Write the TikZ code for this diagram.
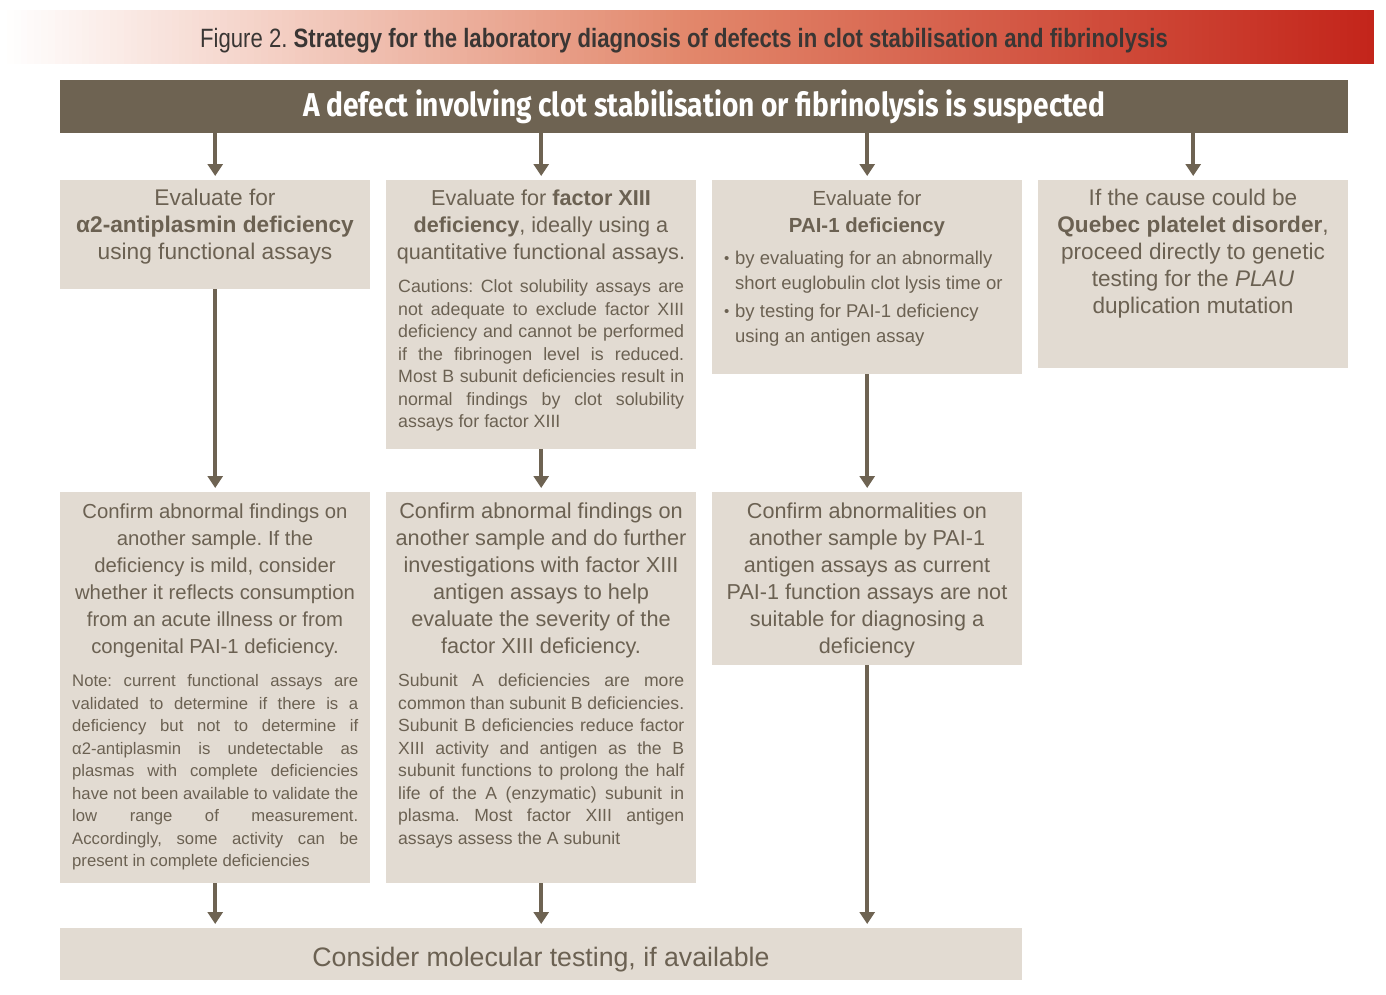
\documentclass[tikz,border=0pt]{standalone}
\usepackage{fontspec}
\setmainfont{Liberation Sans}
\newfontfamily\narrowfont[FakeStretch=0.835]{Liberation Sans}
\newfontfamily\headfont[FakeStretch=0.852]{Fira Sans}
\usetikzlibrary{arrows.meta}
\definecolor{barbrown}{HTML}{6E6352}
\definecolor{boxfill}{HTML}{E2DBD2}
\definecolor{txt}{HTML}{6B6152}
\definecolor{titlered}{HTML}{C3241A}
\definecolor{titlemid}{HTML}{E2876B}
\definecolor{titletxt}{HTML}{3A3634}
\setlength\parindent{0pt}
\frenchspacing
\newcommand\ns{\frenchspacing\spaceskip=0pt\xspaceskip=0pt\relax}
\newcommand\jl[1]{\makebox[286pt][s]{#1}\\}
\newcommand\bul{\makebox[11pt][l]{\raisebox{1pt}{\fontsize{15}{15}\selectfont •}}}
\begin{document}
\begin{tikzpicture}[x=1pt,y=-1pt,
  box/.style={fill=boxfill, draw=none, inner sep=0pt, anchor=north west},
  arr/.style={draw=barbrown, line width=4pt, -{Triangle[width=15pt,length=12pt]}, shorten >=4pt},
  maintxt/.style={text=txt, align=center, inner sep=0pt, font=\fontsize{#1}{27}\selectfont, anchor=north},
  maintxt/.default=21,
  notetxt/.style={text=txt, align=left, text width=286pt, inner sep=0pt, font=\fontsize{#1}{22.5}\selectfont, anchor=north west},
  notetxt/.default=18,
  bultxt/.style={text=txt, align=left, text width=295pt, inner sep=0pt, font=\fontsize{18.5}{25}\selectfont, anchor=north west}]
\useasboundingbox (0,0) rectangle (1386,994);
\fill[white] (0,0) rectangle (1386,994);
% title band (gradient drawn as strips)
\foreach \i in {0,...,99} {
  \fill[titlemid!\i!white] (\i*6.87,10) rectangle (\i*6.87+7.3,64);
  \fill[titlered!\i!titlemid] (687+\i*6.87,10) rectangle ({min(687+\i*6.87+7.3,1374)},64);
}
\node[anchor=base, inner sep=0pt, text=titletxt, font=\narrowfont\fontsize{26.5}{30}\selectfont] (title) at (684,47)
  {Figure 2. \textbf{Strategy for the laboratory diagnosis of defects in clot stabilisation and fibrinolysis}};
% header bar
\node[fill=barbrown, inner sep=0pt, minimum width=1288pt, minimum height=53pt, anchor=north west,
  text=white, font=\headfont\bfseries\fontsize{33}{36}\selectfont] (bar) at (60,80)
  {\raisebox{2pt}{A defect involving clot stabilisation or fibrinolysis is suspected}};
% boxes row 1
\node[box, minimum width=310pt, minimum height=109pt] (a1) at (60,180) {};
\node[box, minimum width=310pt, minimum height=269pt] (b1) at (386,180) {};
\node[box, minimum width=310pt, minimum height=194pt] (c1) at (712,180) {};
\node[box, minimum width=310pt, minimum height=188pt] (d1) at (1038,180) {};
% boxes row 2
\node[box, minimum width=310pt, minimum height=391pt] (a2) at (60,492) {};
\node[box, minimum width=310pt, minimum height=391pt] (b2) at (386,492) {};
\node[box, minimum width=310pt, minimum height=173pt] (c2) at (712,492) {};
% bottom
\node[box, minimum width=962pt, minimum height=52pt] (bot) at (60,928) {};
% texts row 1
\node[maintxt=22.7] (a1t) at (215,189) {\ns Evaluate for\\ \textbf{α2-antiplasmin deficiency}\\ using functional assays};
\node[maintxt=21.6] (b1t) at (541,190) {\ns Evaluate for \textbf{factor XIII}\\ \textbf{deficiency}, ideally using a\\ quantitative functional assays.};
\node[notetxt=17.8] (b1n) at (398,279.5) {\ns\jl{Cautions: Clot solubility assays are}\jl{not adequate to exclude factor XIII}\jl{deficiency and cannot be performed}\jl{if the fibrinogen level is reduced.}\jl{Most B subunit deficiencies result in}\jl{normal findings by clot solubility}assays for factor XIII};
\node[maintxt=20.4] (c1t) at (867,190.5) {\ns Evaluate for\\ \textbf{PAI-1 deficiency}};
\node[bultxt] (c1b) at (724,251) {\ns\bul by evaluating for an abnormally\\ \hspace*{11pt}short euglobulin clot lysis time or\\[3pt] \bul by testing for PAI-1 deficiency\\ \hspace*{11pt}using an antigen assay};
\node[maintxt=22.6] (d1t) at (1193,189) {\ns If the cause could be\\ \textbf{Quebec platelet disorder},\\ proceed directly to genetic\\ testing for the \textit{PLAU}\\ duplication mutation};
% texts row 2
\node[maintxt=20.3] (a2t) at (215,503.5) {\ns Confirm abnormal findings on\\ another sample. If the\\ deficiency is mild, consider\\ whether it reflects consumption\\ from an acute illness or from\\ congenital PAI-1 deficiency.};
\node[notetxt=16.7] (a2n) at (72,674.5) {\ns\jl{Note: current functional assays are}\jl{validated to determine if there is a}\jl{deficiency but not to determine if}\jl{α2-antiplasmin is undetectable as}\jl{plasmas with complete deficiencies}\jl{have not been available to validate the}\jl{low range of measurement.}\jl{Accordingly, some activity can be}present in complete deficiencies};
\node[maintxt=21.7] (b2t) at (541,502.5) {\ns Confirm abnormal findings on\\ another sample and do further\\ investigations with factor XIII\\ antigen assays to help\\ evaluate the severity of the\\ factor XIII deficiency.};
\node[notetxt=17.6] (b2n) at (398,673.8) {\ns\jl{Subunit A deficiencies are more}\jl{common than subunit B deficiencies.}\jl{Subunit B deficiencies reduce factor}\jl{XIII activity and antigen as the B}\jl{subunit functions to prolong the half}\jl{life of the A (enzymatic) subunit in}\jl{plasma. Most factor XIII antigen}assays assess the A subunit};
\node[maintxt=21.6] (c2t) at (867,502.5) {\ns Confirm abnormalities on\\ another sample by PAI-1\\ antigen assays as current\\ PAI-1 function assays are not\\ suitable for diagnosing a\\ deficiency};
\node[anchor=base, inner sep=0pt, text=txt, font=\fontsize{26.7}{30}\selectfont] (bott) at (541,966) {Consider molecular testing, if available};
% arrows
\draw[arr] (bar.south -| a1.north) -- (a1.north);
\draw[arr] (bar.south -| b1.north) -- (b1.north);
\draw[arr] (bar.south -| c1.north) -- (c1.north);
\draw[arr] (bar.south -| d1.north) -- (d1.north);
\draw[arr] (a1.south) -- (a2.north);
\draw[arr] (b1.south) -- (b2.north);
\draw[arr] (c1.south) -- (c2.north);
\draw[arr] (a2.south) -- (bot.north -| a2.south);
\draw[arr] (b2.south) -- (bot.north -| b2.south);
\draw[arr] (c2.south) -- (bot.north -| c2.south);
\end{tikzpicture}
\end{document}
